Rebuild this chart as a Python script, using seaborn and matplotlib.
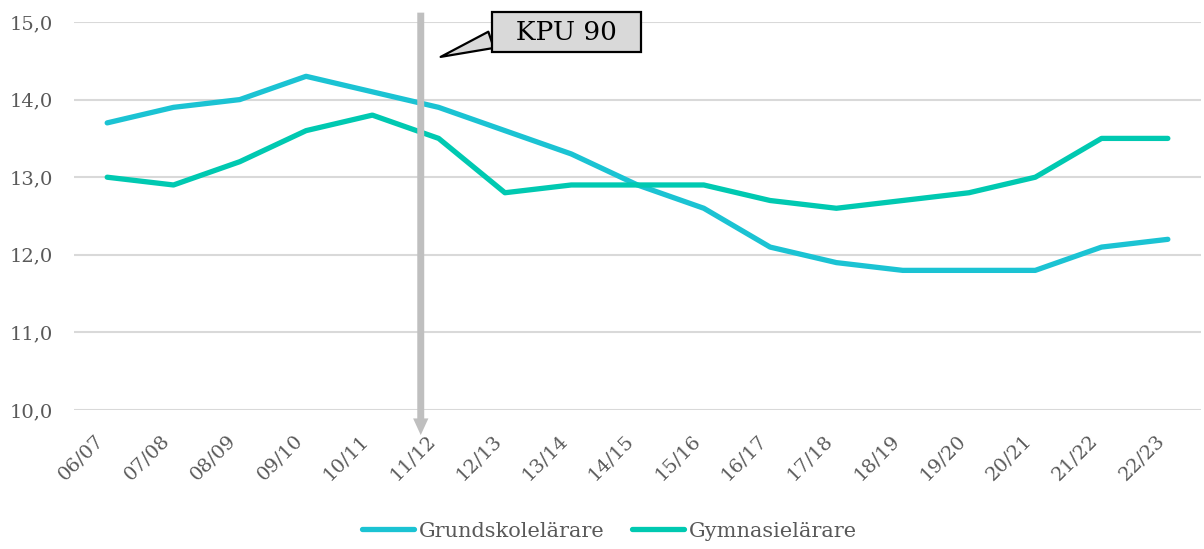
import pandas as pd
import matplotlib.pyplot as plt
import seaborn as sns

years = ['06/07', '07/08', '08/09', '09/10', '10/11', '11/12', '12/13', '13/14', '14/15',
         '15/16', '16/17', '17/18', '18/19', '19/20', '20/21', '21/22', '22/23']
grundskola = [13.7, 13.9, 14.0, 14.3, 14.1, 13.9, 13.6, 13.3, 12.9,
              12.6, 12.1, 11.9, 11.8, 11.8, 11.8, 12.1, 12.2]
gymnasium = [13.0, 12.9, 13.2, 13.6, 13.8, 13.5, 12.8, 12.9, 12.9,
             12.9, 12.7, 12.6, 12.7, 12.8, 13.0, 13.5, 13.5]
series_names = ['Grundskolelärare', 'Gymnasielärare']
y_ticks = [10, 11, 12, 13, 14, 15]


def generate_plot():
    df = pd.DataFrame({
        'year': years * 2,
        'value': grundskola + gymnasium,
        'serie': [series_names[0]] * len(years) + [series_names[1]] * len(years),
    })
    df['x'] = list(range(len(years))) * 2

    sns.set_style('white')
    plt.rcParams['font.family'] = ['DejaVu Serif']
    text_col = '#595959'

    fig = plt.figure(figsize=(12.04, 5.49), dpi=100)
    ax = fig.add_axes([0.0615, 0.253, 0.936, 0.707])

    sns.lineplot(data=df, x='x', y='value', hue='serie', palette=['#1bc3d3', '#00c9b1'],
                 linewidth=3.8, ax=ax, legend=True, solid_capstyle='round')

    ax.set_xlim(-0.5, len(years) - 0.5)
    ax.set_ylim(10, 15)
    ax.set_yticks(y_ticks)
    ax.set_yticklabels([f'{v},0' for v in y_ticks], color=text_col, fontsize=14)
    ax.set_xticks(range(len(years)))
    ax.set_xticklabels(years, rotation=45, ha='right', color=text_col, fontsize=14)
    ax.tick_params(axis='y', length=0, pad=15)
    ax.tick_params(axis='x', length=0, pad=15)
    ax.grid(axis='y', color='#d9d9d9', linewidth=1.5)
    ax.set_axisbelow(True)
    for s in ax.spines.values():
        s.set_visible(False)
    ax.set_xlabel('')
    ax.set_ylabel('')

    # KPU 90 arrow
    ax.annotate('', xy=(4.73, 9.678), xytext=(4.73, 15.12),
                arrowprops=dict(width=5, headwidth=11, headlength=12, shrink=0,
                                fc='#bfbfbf', ec='none'),
                annotation_clip=False)
    ax.annotate('  KPU 90  ', xy=(5.03, 14.55), xytext=(6.93, 14.87), ha='center', va='center',
                fontsize=19, color='black',
                bbox=dict(boxstyle='square,pad=0.28', fc='#d9d9d9', ec='black', lw=1.6),
                arrowprops=dict(arrowstyle='wedge,tail_width=0.65', fc='#d9d9d9', ec='black',
                                lw=1.6, relpos=(0.0, 0.3), shrinkA=0, shrinkB=0),
                annotation_clip=False)

    leg = ax.legend(loc='lower center', bbox_to_anchor=(0.475, -0.385), ncol=2, frameon=False,
                    fontsize=15, handlelength=2.5, handletextpad=0.25, columnspacing=1.3)
    for t in leg.get_texts():
        t.set_color(text_col)
    for l in leg.get_lines():
        l.set_linewidth(3.8)

    plt.savefig('out.png', dpi=100)
    plt.close()


if __name__ == "__main__":
    generate_plot()
